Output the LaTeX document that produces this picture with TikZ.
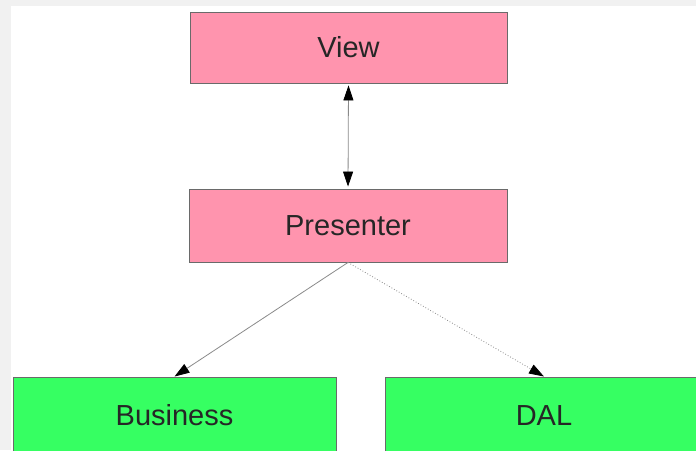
\documentclass[tikz,border=0pt]{standalone}
\usepackage{fontspec}
\setmainfont{Liberation Sans}
\usetikzlibrary{arrows.meta}
\definecolor{boxpink}{HTML}{FF94AE}
\definecolor{boxgreen}{HTML}{36FF62}
\definecolor{frame}{HTML}{F1F1F1}
\definecolor{edge}{HTML}{6A6A6A}
\definecolor{linkgray}{HTML}{8A8A8A}
\tikzset{
  box/.style={draw=edge, line width=0.9pt, inner sep=0pt, minimum height=73pt,
              font=\fontsize{29}{30}\selectfont, text=black!85},
  pinkbox/.style={box, fill=boxpink},
  greenbox/.style={box, fill=boxgreen},
  mytip/.tip={Triangle[length=15pt,width=10pt,color=black]},
  link/.style={draw=linkgray, line width=0.8pt}
}
\begin{document}
\begin{tikzpicture}[x=1pt,y=-1pt]
\useasboundingbox (0,0) rectangle (696,450);
\fill[frame] (0,0) rectangle (696,450);
\fill[white] (11,6) rectangle (696,450);
\node[pinkbox, minimum width=317pt, minimum height=71pt] (view) at (348.5,47.5) {View};
\node[pinkbox, minimum width=318pt] (pres) at (348,225.5) {Presenter};
\node[greenbox, minimum width=323pt, minimum height=77pt] (bus) at (174.5,415.5) {Business};
\node[greenbox, minimum width=318pt, minimum height=77pt] (dal) at (544,415.5) {DAL};
\draw[link, mytip-mytip, shorten <=2pt, shorten >=2pt] (view.south) -- (pres.north);
\draw[link, -mytip] (pres.south) -- (bus.north);
\draw[link, dotted, -mytip] (pres.south) -- (dal.north);
\end{tikzpicture}
\end{document}
